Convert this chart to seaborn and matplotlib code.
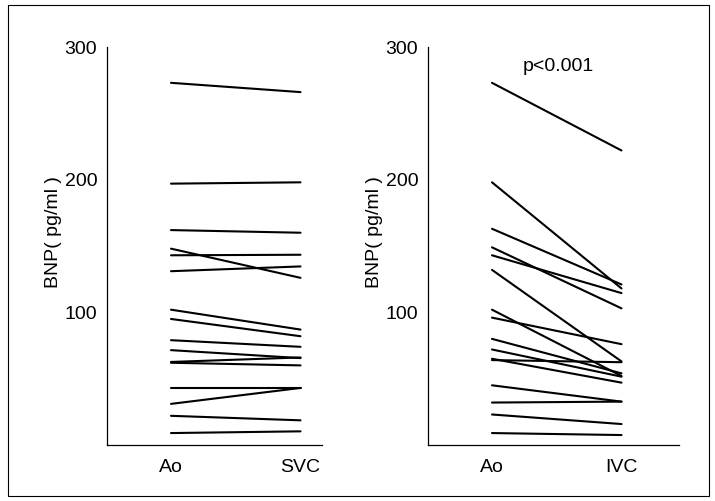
import pandas as pd
import matplotlib
matplotlib.use('Agg')
import matplotlib.pyplot as plt
import seaborn as sns
from matplotlib.patches import Rectangle

# BNP (pg/ml) per patient, aorta vs. superior / inferior vena cava
ao_left = [273, 197, 162, 148, 143, 131, 102, 95, 79, 71.5, 62.6, 62, 43, 31, 22, 9]
svc = [266, 198, 160, 126, 143.4, 134.6, 87, 82, 74, 65.5, 66, 60, 43, 43, 18.6, 10.3]

ao_right = [273, 198, 163, 149, 143, 132, 102, 96, 80, 72, 65, 64, 45, 32, 23, 9]
ivc = [222, 118, 121, 103, 114.5, 63, 52, 76, 54, 51.5, 47, 62.4, 32.7, 32.7, 15.8, 7.5]

left_sites = ['Ao', 'SVC']
right_sites = ['Ao', 'IVC']
y_ticks = [100, 200, 300]
y_label = 'BNP( pg/ml )'
p_text = 'p<0.001'


def long_table(first, second):
    rows = []
    for pid, (a, b) in enumerate(zip(first, second)):
        rows.append({'pid': pid, 'pos': 0, 'bnp': a})
        rows.append({'pid': pid, 'pos': 1, 'bnp': b})
    return pd.DataFrame(rows)


sns.set_style('white')
plt.rcParams['font.family'] = ['Liberation Sans', 'DejaVu Sans']
plt.rcParams['text.color'] = 'black'
plt.rcParams['xtick.color'] = 'black'
plt.rcParams['ytick.color'] = 'black'
plt.rcParams['axes.labelcolor'] = 'black'
FS = 14

W, H = 715, 501
fig = plt.figure(figsize=(W / 100, H / 100), dpi=100)

# outer frame
fig.add_artist(Rectangle((8 / W, 5 / H), (709 - 8) / W, (496 - 5) / H,
                         transform=fig.transFigure, fill=False,
                         edgecolor='black', linewidth=0.8))


def panel(px_left, px_right, x0_px, first, second, sites, label_x, pval=None):
    top, bottom = 47, 445
    ax = fig.add_axes([px_left / W, (H - bottom) / H,
                       (px_right - px_left) / W, (bottom - top) / H])
    df = long_table(first, second)
    sns.lineplot(data=df, x='pos', y='bnp', units='pid', estimator=None,
                 color='black', linewidth=1.5, legend=False, ax=ax)
    step = 129.5
    ax.set_xlim((px_left - x0_px) / step, (px_right - x0_px) / step)
    ax.set_ylim(0, 300)
    ax.set_xticks(range(len(sites)))
    ax.set_xticklabels(sites)
    ax.set_yticks(y_ticks)
    ax.tick_params(axis='y', length=0, pad=7, labelsize=FS)
    ax.tick_params(axis='x', length=0, pad=10, labelsize=FS)
    ax.set_xlabel('')
    ax.set_ylabel(y_label, fontsize=FS)
    ax.yaxis.set_label_coords(label_x, 0.535)
    sns.despine(ax=ax)
    for side in ['left', 'bottom']:
        ax.spines[side].set_linewidth(0.9)
        ax.spines[side].set_color('black')
    if pval:
        ax.text(0.518, 0.95, pval, transform=ax.transAxes, ha='center',
                va='center', fontsize=FS)
    return ax


panel(107, 322, 171, ao_left, svc, left_sites, -0.209)
panel(428, 679, 492, ao_right, ivc, right_sites, -0.179, p_text)

fig.savefig('out.png', dpi=100)
